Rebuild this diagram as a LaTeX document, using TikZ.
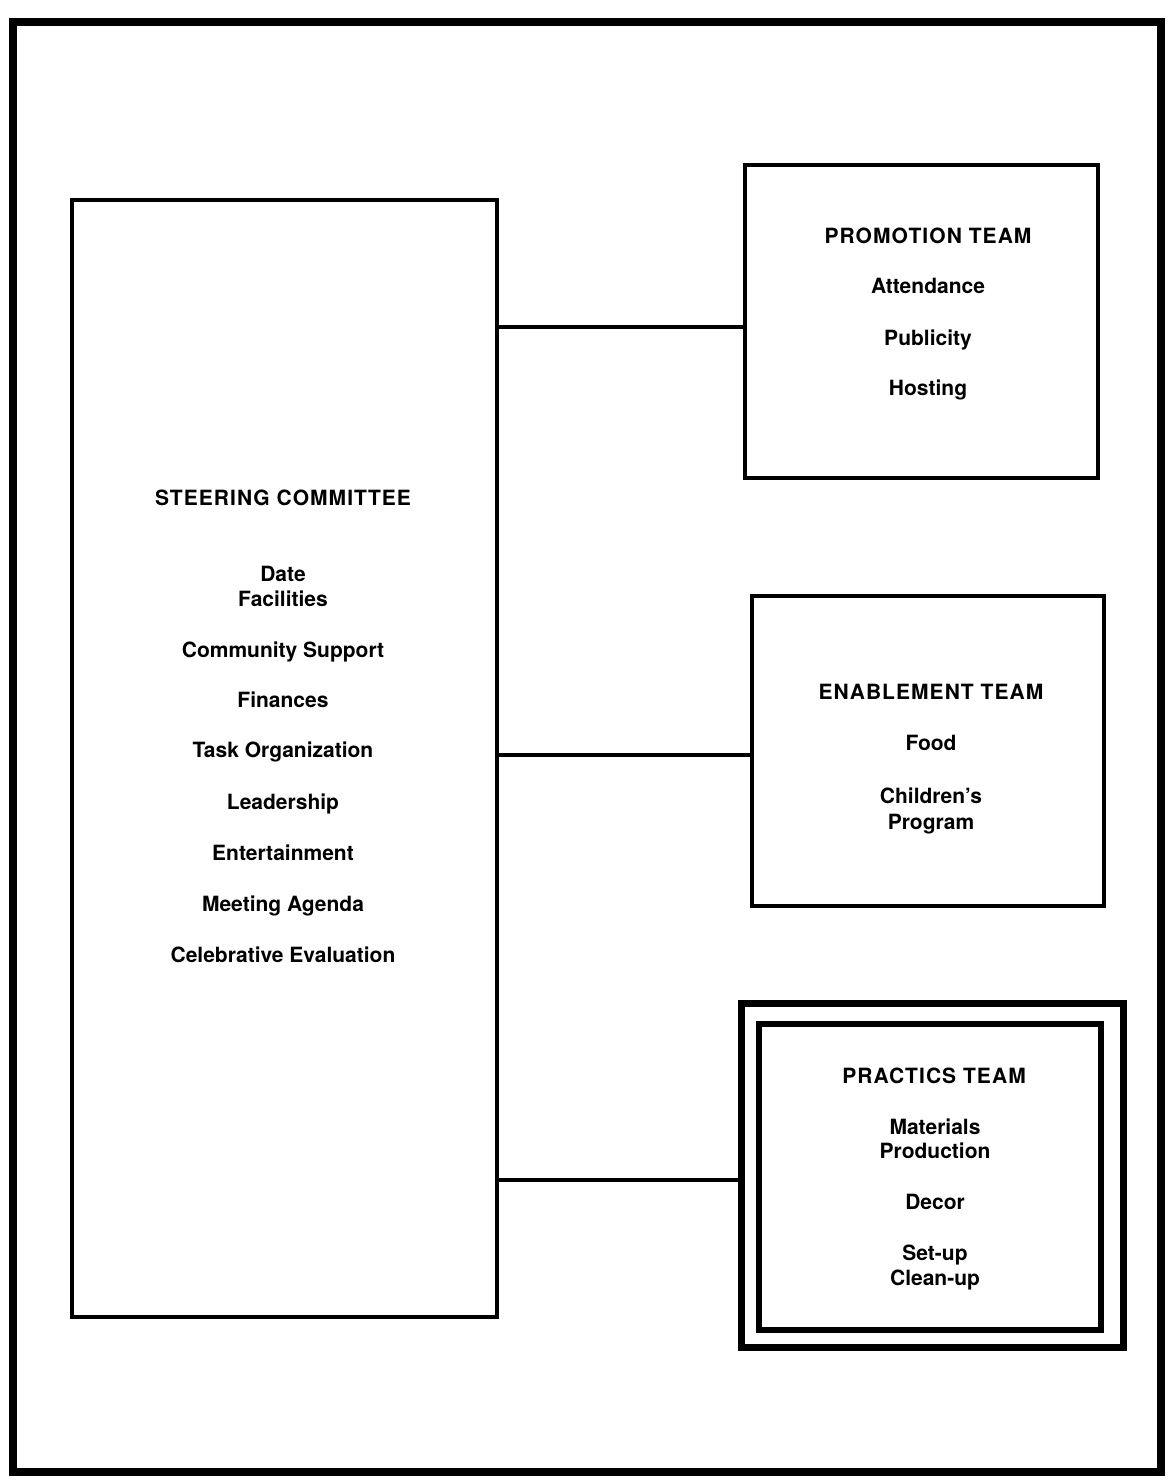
\documentclass[tikz,border=0pt]{standalone}
\usepackage{fontspec}
\setmainfont{TeX Gyre Heros}
\begin{document}
\begin{tikzpicture}[x=1pt,y=-1pt,
  frame/.style={draw, line width=8pt},
  box/.style={draw, line width=4pt, rectangle, inner sep=0pt},
  link/.style={line width=4pt},
  txt/.style={anchor=base, inner sep=0pt, font=\fontsize{21}{21}\selectfont\bfseries},
  ttl/.style={anchor=base, inner sep=0pt, font=\fontsize{21}{21}\selectfont\bfseries\addfontfeature{LetterSpace=5}}]
\useasboundingbox (0,0) rectangle (1169,1480);
\draw[frame] (13,22) rectangle (1161,1472);
% boxes
\node[box, minimum width=425pt, minimum height=1117pt] (steer) at (284.5,758.5) {};
\node[box, minimum width=353pt, minimum height=313pt] (promo) at (921.5,321.5) {};
\node[box, minimum width=352pt, minimum height=310pt] (enable) at (928,751) {};
\node[box, line width=7pt, minimum width=382pt, minimum height=344pt] (pract) at (932.5,1175.5) {};
\node[box, line width=6pt, minimum width=342pt, minimum height=306pt] (practin) at (930,1177) {};
% connector ends
\coordinate (pw) at ([yshift=-5.5pt]promo.west);
\coordinate (ew) at ([yshift=-4pt]enable.west);
\coordinate (rw) at ([yshift=-4.5pt]pract.west);
% connectors
\draw[link] (steer.east |- pw) -- (pw);
\draw[link] (steer.east |- ew) -- (ew);
\draw[link] (steer.east |- rw) -- (rw);
% steering texts
\node[ttl] (s0) at (283,505) {STEERING COMMITTEE};
\node[txt] (s1) at (283,581) {Date};
\node[txt] (s2) at (283,606) {Facilities};
\node[txt] (s3) at (283,657) {Community Support};
\node[txt] (s4) at (283,707) {Finances};
\node[txt] (s5) at (283,757) {Task Organization};
\node[txt] (s6) at (283,809) {Leadership};
\node[txt] (s7) at (283,860) {Entertainment};
\node[txt] (s8) at (283,911) {Meeting Agenda};
\node[txt] (s9) at (283,962) {Celebrative Evaluation};
% promotion
\node[ttl] (p0) at (928,243) {PROMOTION TEAM};
\node[txt] (p1) at (928,293) {Attendance};
\node[txt] (p2) at (928,345) {Publicity};
\node[txt] (p3) at (928,395) {Hosting};
% enablement
\node[ttl] (e0) at (931,699) {ENABLEMENT TEAM};
\node[txt] (e1) at (931,750) {Food};
\node[txt] (e2) at (931,803) {Children’s};
\node[txt] (e3) at (931,829) {Program};
% practics
\node[ttl] (r0) at (934,1083) {PRACTICS TEAM};
\node[txt] (r1) at (935,1134) {Materials};
\node[txt] (r2) at (935,1158) {Production};
\node[txt] (r3) at (935,1209) {Decor};
\node[txt] (r4) at (935,1260) {Set-up};
\node[txt] (r5) at (935,1285) {Clean-up};
\end{tikzpicture}
\end{document}
